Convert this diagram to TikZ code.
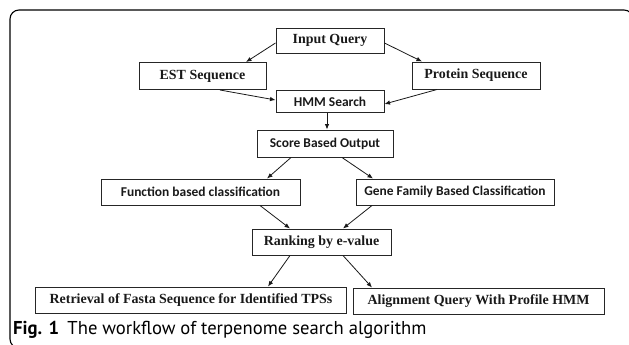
\documentclass[tikz,border=0pt]{standalone}
\usepackage{fontspec}
\setmainfont{Liberation Serif}
\newfontfamily\boxsans{Carlito}
\newfontfamily\capfont{PT Sans}
\usetikzlibrary{arrows.meta}
\begin{document}
\begin{tikzpicture}[x=1bp,y=-1bp,
  box/.style={draw=black!85,line width=1bp,inner sep=0pt,text=black!90},
  serifbox/.style={box,font=\fontsize{14}{15}\selectfont\bfseries},
  sansbox/.style={box,font=\fontsize{13.5}{15}\boxsans\bfseries},
  flow/.style={draw=black!90,line width=0.8bp,-{Latex[length=5.5bp,width=4.5bp]}}]
\useasboundingbox (0,0) rectangle (629,344);
\begin{scope}
\clip (0,0) rectangle (629,344);
\draw[line width=1.1bp,rounded corners=9bp] (10,10) rectangle (633,348);
\end{scope}
% nodes
\node[serifbox,minimum width=108bp,minimum height=25bp] (iq) at (330,40.5) {Input Query};
\node[serifbox,minimum width=127bp,minimum height=27bp] (est) at (202.5,76) {EST Sequence};
\node[serifbox,minimum width=128bp,minimum height=27bp] (prot) at (476,75.5) {Protein Sequence};
\node[sansbox,minimum width=108bp,minimum height=22bp] (hmm) at (330,101.5) {HMM Search};
\node[sansbox,minimum width=136bp,minimum height=27bp] (score) at (325,143.5) {Score Based Output};
\node[sansbox,minimum width=199bp,minimum height=26bp] (func) at (200.5,192) {Function based classification};
\node[sansbox,minimum width=198bp,minimum height=26bp] (gene) at (455,192) {Gene Family Based Classification};
\node[serifbox,minimum width=139bp,minimum height=26bp] (rank) at (321.5,242) {Ranking by e-value};
\node[serifbox,minimum width=310bp,minimum height=26bp] (ret) at (191,300) {Retrieval of Fasta Sequence for Identified TPSs};
\node[serifbox,minimum width=251bp,minimum height=26bp] (ali) at (478.5,301) {Alignment Query With Profile HMM};
\node[anchor=base west,inner sep=0pt,font=\fontsize{18.7}{20}\capfont] (cap) at (13,334)
  {\textbf{Fig. 1}\hspace{0.45em}The workflow of terpenome search algorithm};
% connectors
\draw[flow] (iq.west |- 0,43) -- (est.north -| 246,0);
\draw[flow] (iq.east |- 0,43) -- (prot.north -| 422,0);
\draw[flow] (est.south -| 220,0) -- (hmm.west |- 0,100);
\draw[flow] (prot.south -| 437,0) -- (hmm.east |- 0,104);
\draw[flow] (hmm.south -| 327,0) -- (score.north -| 327,0);
\draw[flow] (score.south -| 291,0) -- (func.north -| 267,0);
\draw[flow] (score.south -| 342,0) -- (gene.north -| 373,0);
\draw[flow] (func.south -| 260,0) -- (rank.north -| 290,0);
\draw[flow] (gene.south -| 372,0) -- (rank.north -| 343,0);
\draw[flow] (rank.south -| 290,0) -- (ret.north -| 268,0);
\draw[flow] (rank.south -| 343,0) -- (ali.north -| 372,0);
\end{tikzpicture}
\end{document}
